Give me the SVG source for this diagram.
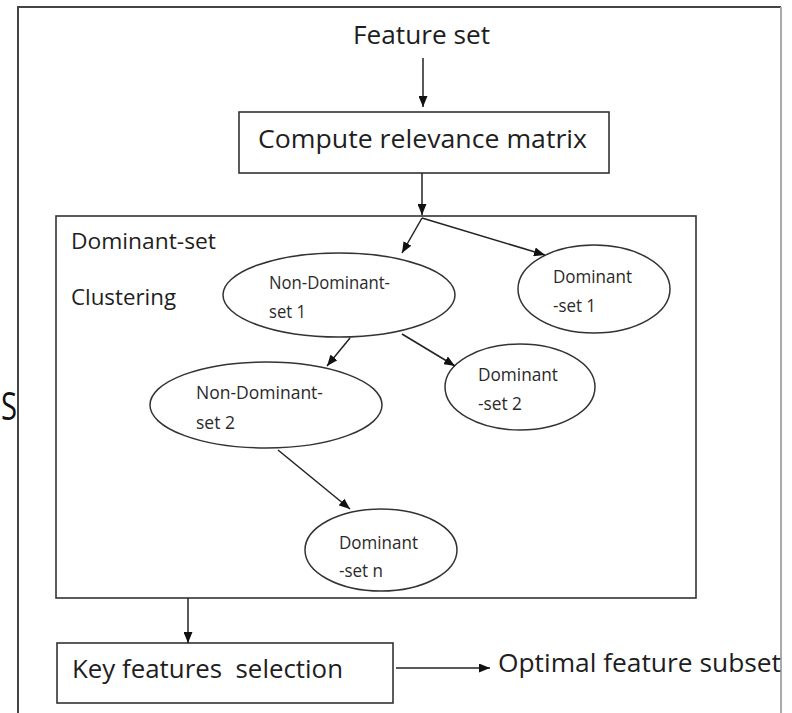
<svg xmlns="http://www.w3.org/2000/svg" width="792" height="713" viewBox="0 0 792 713">
  <style>
    .box { fill: none; stroke: #333; stroke-width: 1.6; }
    .ell { fill: #fff; stroke: #333; stroke-width: 1.5; }
    .con { fill: none; stroke: #222; stroke-width: 1.5; marker-end: url(#arr); }
    .big { font-family: "Open Sans", "Liberation Sans", sans-serif; font-size: 26px; fill: #1e1e1e; }
    .mid { font-family: "Open Sans", "Liberation Sans", sans-serif; font-size: 21px; fill: #1e1e1e; }
    .sm { font-family: "Open Sans", "Liberation Sans", sans-serif; font-size: 18px; fill: #2a2a2a; }
  </style>
  <defs>
    <marker id="arr" markerUnits="userSpaceOnUse" markerWidth="11" markerHeight="9" refX="11" refY="4.5" orient="auto">
      <path d="M0,0 L11,4.5 L0,9 z" fill="#111"/>
    </marker>
  </defs>
  <rect width="792" height="713" fill="#fff"/>
  <g id="frame">
    <path d="M18,720 L18,7 L781,7" fill="none" stroke="#444" stroke-width="2"/>
    <line x1="781" y1="7" x2="781" y2="713" stroke="#aaa" stroke-width="2"/>
  </g>
  <text x="1" y="420" font-family="Open Sans, sans-serif" font-size="38" fill="#111" textLength="16" lengthAdjust="spacingAndGlyphs">S</text>

  <g id="feature-set">
    <text class="big" x="353" y="44" textLength="137" lengthAdjust="spacingAndGlyphs">Feature set</text>
  </g>
  <g id="compute">
    <rect class="box" x="239" y="112" width="370" height="61"/>
    <text class="big" x="258" y="148" textLength="329" lengthAdjust="spacingAndGlyphs">Compute relevance matrix</text>
  </g>
  <g id="clustering">
    <rect class="box" x="56" y="216" width="640" height="382"/>
    <text class="mid" x="71" y="249" textLength="145" lengthAdjust="spacingAndGlyphs">Dominant-set</text>
    <text class="mid" x="71" y="305" textLength="105" lengthAdjust="spacingAndGlyphs">Clustering</text>
  </g>
  <g id="nd1">
    <ellipse class="ell" cx="339" cy="295" rx="116" ry="42"/>
    <text class="sm" x="269" y="289" textLength="121" lengthAdjust="spacingAndGlyphs">Non-Dominant-</text>
    <text class="sm" x="269" y="318" textLength="37" lengthAdjust="spacingAndGlyphs">set 1</text>
  </g>
  <g id="d1">
    <ellipse class="ell" cx="594" cy="289" rx="76" ry="44"/>
    <text class="sm" x="553" y="283" textLength="79" lengthAdjust="spacingAndGlyphs">Dominant</text>
    <text class="sm" x="553" y="312" textLength="43" lengthAdjust="spacingAndGlyphs">-set 1</text>
  </g>
  <g id="nd2">
    <ellipse class="ell" cx="266" cy="405" rx="116" ry="43"/>
    <text class="sm" x="196" y="399" textLength="127" lengthAdjust="spacingAndGlyphs">Non-Dominant-</text>
    <text class="sm" x="196" y="429" textLength="39" lengthAdjust="spacingAndGlyphs">set 2</text>
  </g>
  <g id="d2">
    <ellipse class="ell" cx="520" cy="387" rx="75" ry="43"/>
    <text class="sm" x="478" y="381" textLength="80" lengthAdjust="spacingAndGlyphs">Dominant</text>
    <text class="sm" x="478" y="410" textLength="44" lengthAdjust="spacingAndGlyphs">-set 2</text>
  </g>
  <g id="dn">
    <ellipse class="ell" cx="381" cy="550" rx="76" ry="41"/>
    <text class="sm" x="339" y="549" textLength="79" lengthAdjust="spacingAndGlyphs">Dominant</text>
    <text class="sm" x="339" y="577" textLength="44" lengthAdjust="spacingAndGlyphs">-set n</text>
  </g>
  <g id="key">
    <rect class="box" x="57" y="643" width="336" height="60"/>
    <text class="big" x="72" y="678" textLength="271" lengthAdjust="spacingAndGlyphs" xml:space="preserve">Key features  selection</text>
  </g>
  <g id="optimal">
    <text class="big" x="498" y="672" textLength="283" lengthAdjust="spacingAndGlyphs">Optimal feature subset</text>
  </g>

  <g id="connectors">
    <line class="con" x1="423" y1="58" x2="423" y2="107"/>
    <line class="con" x1="422" y1="173" x2="422" y2="215"/>
    <line class="con" x1="422" y1="218" x2="402" y2="253"/>
    <line class="con" x1="422" y1="218" x2="545" y2="255"/>
    <line class="con" x1="350" y1="338" x2="327" y2="366"/>
    <line class="con" x1="402" y1="334" x2="455" y2="366"/>
    <line class="con" x1="278" y1="450" x2="350" y2="509"/>
    <line class="con" x1="188" y1="598" x2="188" y2="643"/>
    <line class="con" x1="396" y1="668" x2="490" y2="668"/>
  </g>
</svg>
